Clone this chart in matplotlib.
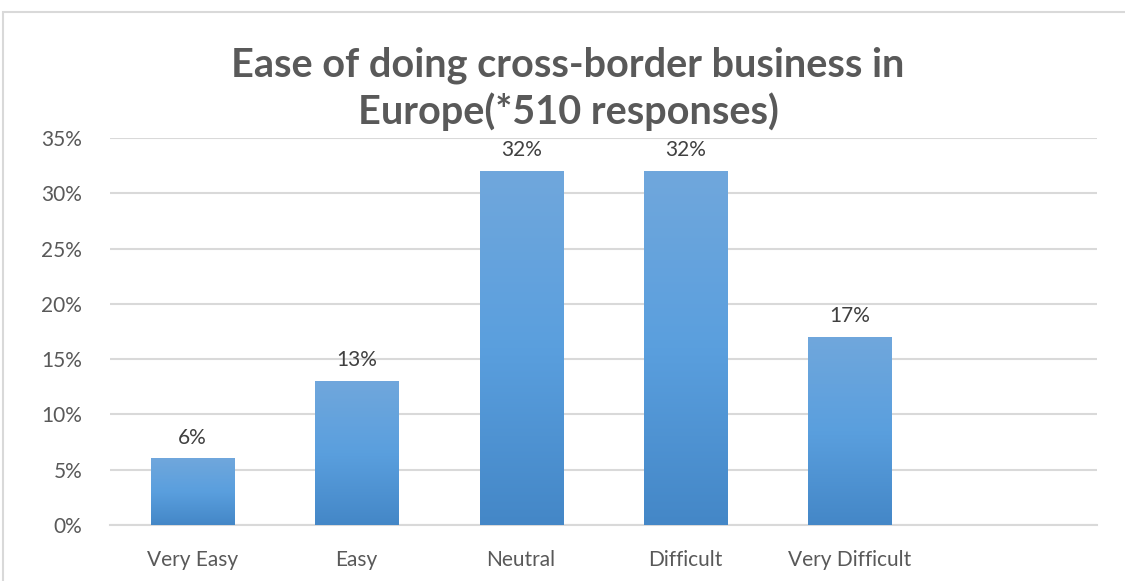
import numpy as np
import matplotlib
matplotlib.use("Agg")
import matplotlib.pyplot as plt
from matplotlib.patches import Rectangle
from matplotlib.ticker import PercentFormatter

categories = ["Very Easy", "Easy", "Neutral", "Difficult", "Very Difficult", ""]
shares = [6, 13, 32, 32, 17, None]
y_ticks = [0, 5, 10, 15, 20, 25, 30, 35]

plt.rcParams["font.family"] = ["Lato", "DejaVu Sans"]

fig = plt.figure(figsize=(11.25, 5.81), dpi=100)
ax = fig.add_axes([0.0978, 0.0964, 0.877, 0.666])

# light frame around the chart area
fig.patches.append(Rectangle((0.003, -0.01), 1.2, 0.99, transform=fig.transFigure,
                             fill=False, edgecolor="#d9d9d9", linewidth=1.5))

x = np.arange(len(categories))
vals = [v for v in shares if v is not None]
bars = ax.bar(x[:len(vals)], vals, width=0.505, color="#5b9bd5", zorder=2)

# vertical gradient fill on each bar
grad = np.linspace(0, 1, 256).reshape(-1, 1)
cmap = matplotlib.colors.LinearSegmentedColormap.from_list("bar", ["#4487c7", "#5a9fde", "#70a7dc"])
for b in bars:
    x0, w, h = b.get_x(), b.get_width(), b.get_height()
    ax.imshow(grad, cmap=cmap, origin="lower", aspect="auto",
              extent=(x0, x0 + w, 0, h), zorder=3)
    ax.text(x0 + w / 2, h + 1.0, f"{h:.0f}%", ha="center", va="bottom",
            fontsize=15, color="#404040", zorder=4)

ax.set_xlim(-0.5, len(categories) - 0.5)
ax.set_ylim(0, 35)
ax.set_yticks(y_ticks)
ax.yaxis.set_major_formatter(PercentFormatter(decimals=0))
ax.set_xticks(x)
ax.set_xticklabels(categories)
ax.tick_params(length=0, labelsize=15, colors="#595959", pad=18)
ax.tick_params(axis="y", pad=20)
ax.grid(axis="y", color="#d9d9d9", linewidth=1.5, zorder=0)
for s in ["top", "right", "left"]:
    ax.spines[s].set_visible(False)
ax.spines["bottom"].set_color("#d9d9d9")
ax.spines["bottom"].set_linewidth(1.5)

fig.text(0.505, 0.775, "Ease of doing cross-border business in\nEurope(*510 responses)",
         ha="center", va="bottom", fontsize=28.5, fontweight="bold",
         color="#595959", linespacing=1.25)

fig.savefig("out.png", dpi=100)
